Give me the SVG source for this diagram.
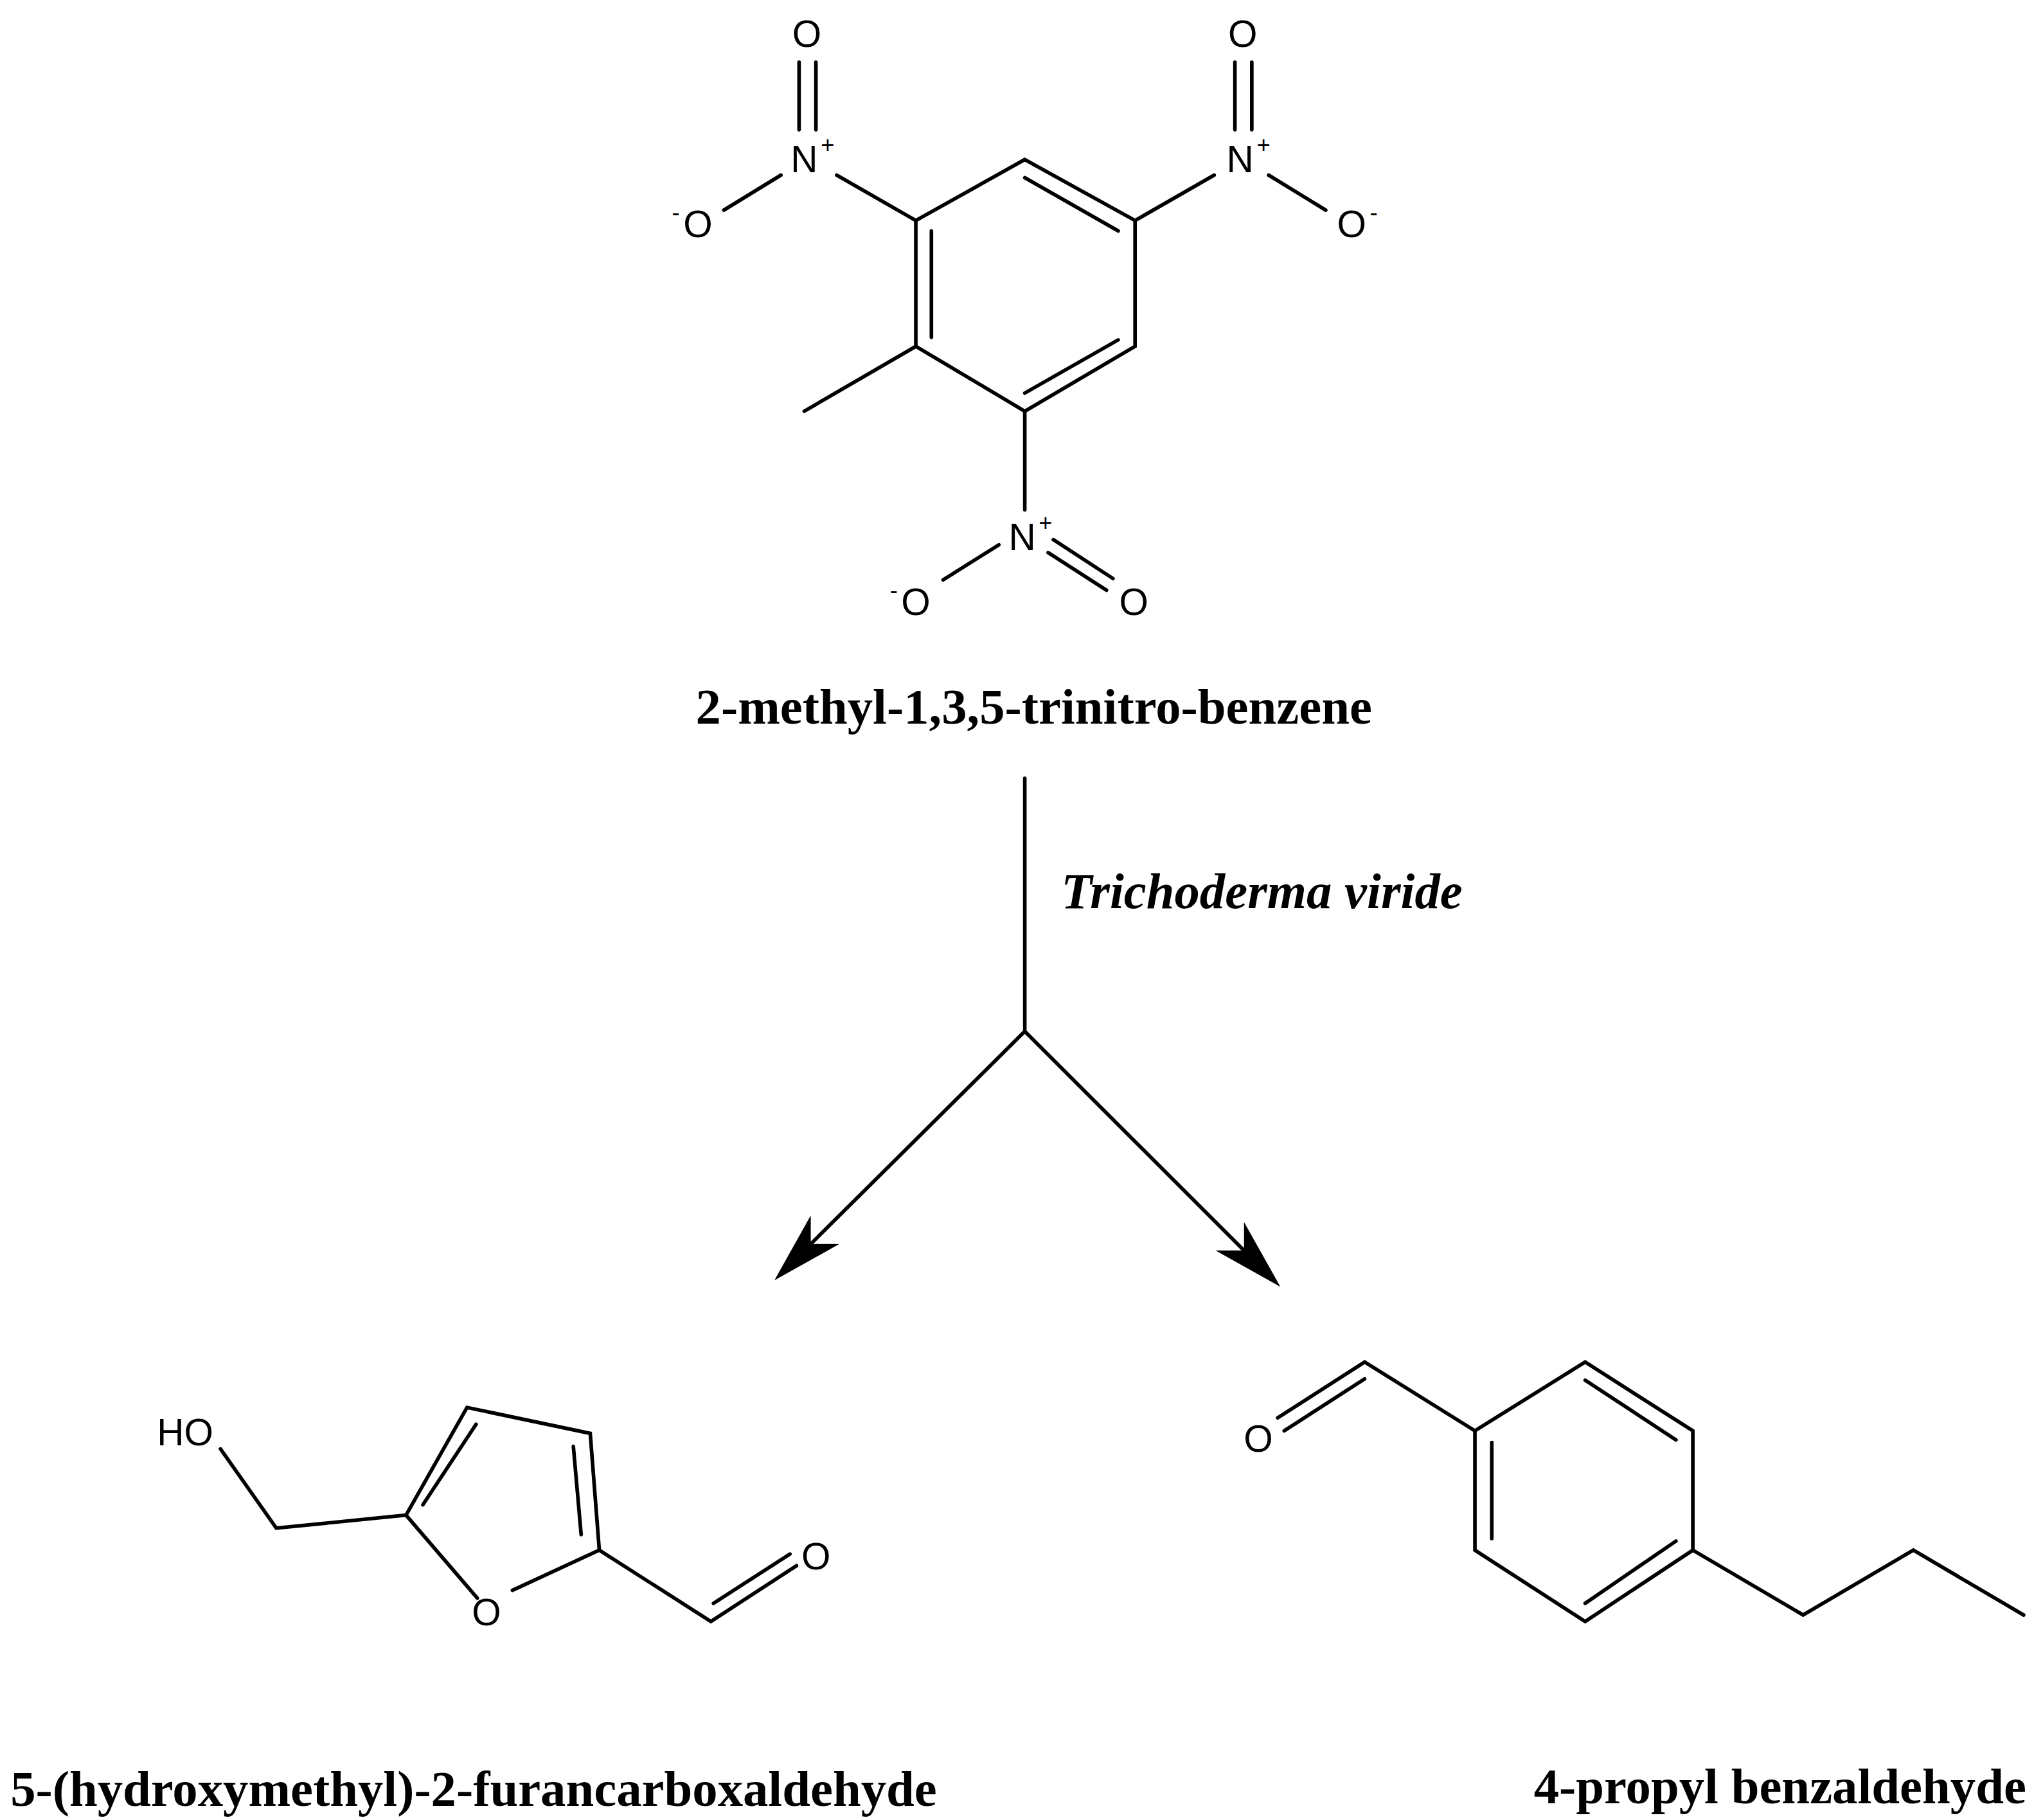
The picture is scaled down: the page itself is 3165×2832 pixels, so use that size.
<svg xmlns="http://www.w3.org/2000/svg" width="3165" height="2832" viewBox="0 0 3165 2832">
<style>
.b{stroke:#000;stroke-width:2.8;fill:none;stroke-linecap:round}
.a{font-family:"Liberation Sans",Arial,sans-serif;font-size:29px;fill:#000}
.s{font-family:"Liberation Sans",Arial,sans-serif;font-size:18px;fill:#000}
.t{font-family:"Liberation Serif","Times New Roman",serif;font-weight:bold;font-size:39px;fill:#000}
</style>
<rect width="3165" height="2832" fill="#fff"/>
<g transform="scale(2.0185)">
<g id="tnt">
<path class="b" d="M790,123 L706,170 L706,267 L790,317 L875,267 L875,170 Z"/>
<path class="b" d="M790,137 L862,178 M718,178 L718,260 M790,303 L862,262"/>
<path class="b" d="M706,267 L620,317"/>
<path class="b" d="M706,170 L645,135 M616,100 L616,48 M629,100 L629,48 M602,135 L558,162"/>
<path class="b" d="M875,170 L936,135 M952,100 L952,48 M965,100 L965,48 M978,135 L1022,162"/>
<path class="b" d="M790,317 L790,393 M770,420 L727,447 M812,416 L858,446 M808,426 L853,455"/>
<text class="a" x="622" y="36" text-anchor="middle">O</text>
<text class="a" x="620" y="133" text-anchor="middle">N</text><text class="s" x="638" y="118" text-anchor="middle">+</text>
<text class="a" x="538" y="183" text-anchor="middle">O</text><text class="s" x="521" y="170" text-anchor="middle">-</text>
<text class="a" x="958" y="36" text-anchor="middle">O</text>
<text class="a" x="956" y="133" text-anchor="middle">N</text><text class="s" x="974" y="118" text-anchor="middle">+</text>
<text class="a" x="1042" y="183" text-anchor="middle">O</text><text class="s" x="1059" y="170" text-anchor="middle">-</text>
<text class="a" x="788" y="424" text-anchor="middle">N</text><text class="s" x="806" y="409" text-anchor="middle">+</text>
<text class="a" x="706" y="474" text-anchor="middle">O</text><text class="s" x="689" y="461" text-anchor="middle">-</text>
<text class="a" x="874" y="474" text-anchor="middle">O</text>
<text class="t" x="797" y="558" text-anchor="middle">2-methyl-1,3,5-trinitro-benzene</text>
</g>
<g id="connectors">
<path class="b" d="M790,600 L790,795 L625,959 M790,795 L959,964"/>
<path d="M597,987 L625,937 L625,959 L647,959 Z M987,992 L937,964 L959,964 L959,942 Z" fill="#000"/>
<text class="t" x="818" y="700" font-style="italic">Trichoderma viride</text>
</g>
<g id="hmf">
<text class="a" x="121" y="1114">HO</text>
<path class="b" d="M170,1117 L213,1178 L313,1168 L360,1085 L455,1105 L462,1195 L395,1226 M313,1168 L368,1232"/>
<path class="b" d="M326,1160 L367,1098 M442,1115 L448,1183"/>
<path class="b" d="M462,1195 L548,1250 L614,1207 M550,1236 L609,1198"/>
<text class="a" x="375" y="1253" text-anchor="middle">O</text>
<text class="a" x="629" y="1210" text-anchor="middle">O</text>
<text class="t" x="8" y="1392">5-(hydroxymethyl)-2-furancarboxaldehyde</text>
</g>
<g id="pba">
<path class="b" d="M1137,1103 L1222,1050 L1305,1103 L1305,1195 L1222,1250 L1137,1195 Z"/>
<path class="b" d="M1222,1064 L1292,1110 M1150,1112 L1150,1186 M1222,1236 L1292,1188"/>
<path class="b" d="M1137,1103 L1052,1050 L985,1093 M1052,1063 L990,1103"/>
<path class="b" d="M1305,1195 L1390,1245 L1475,1195 L1560,1245"/>
<text class="a" x="970" y="1119" text-anchor="middle">O</text>
<text class="t" x="1562" y="1390" text-anchor="end">4-propyl benzaldehyde</text>
</g>
</g>
</svg>
